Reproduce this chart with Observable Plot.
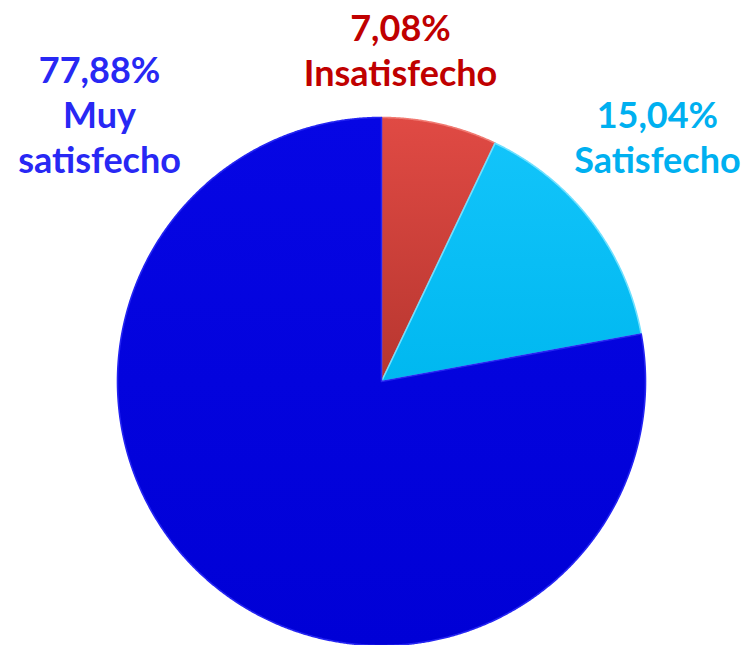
<!DOCTYPE html>
<html><head><meta charset="utf-8">
<script src="https://cdn.jsdelivr.net/npm/d3@7"></script>
<script src="https://cdn.jsdelivr.net/npm/@observablehq/plot@0.6"></script>
<style>body{margin:0;background:#fff} svg{display:block}</style>
</head><body><div id="chart"></div>
<script>
// ---- data ----
const categories = ["Insatisfecho", "Satisfecho", "Muy satisfecho"];
const values = [7.08, 15.04, 77.88];
const valueLabels = ["7,08%", "15,04%", "77,88%"];
const labelLines = ["Insatisfecho", "Satisfecho", "Muy\nsatisfecho"];

// ---- styles / layout ----
const gradStops = [["#e04a44", "#b7362f"], ["#12c4fa", "#00b8f0"], ["#0606e4", "#0000d6"]];
const edgeColors = ["#f07a72", "#6fe0ff", "#2424f2"];
const textColors = ["#c00000", "#00b0f0", "#2828f4"];
const labelAnchors = [[0.072, 1.412], [1.045, 1.082], [-1.068, 1.252]]; // unit-circle coordinates

// ---- slice geometry derived from values ----
const total = d3.sum(values);
let acc = 0;
const slices = categories.map((c, i) => {
  const a0 = acc / total * 2 * Math.PI;
  acc += values[i];
  const a1 = acc / total * 2 * Math.PI;
  return {key: c, a0, a1, i};
});
function slicePoints(s) {
  const n = Math.max(2, Math.ceil((s.a1 - s.a0) / (Math.PI / 720)));
  const pts = [{key: s.key, x: 0, y: 0}];
  for (let k = 0; k <= n; ++k) {
    const a = s.a0 + (s.a1 - s.a0) * k / n;
    pts.push({key: s.key, x: Math.sin(a), y: Math.cos(a)});
  }
  return pts;
}
const labels = categories.map((c, i) => ({
  key: c, text: valueLabels[i] + "\n" + labelLines[i],
  x: labelAnchors[i][0], y: labelAnchors[i][1]
}));

const sliceMarks = slices.map(s => Plot.line(slicePoints(s), {
  x: "x", y: "y", curve: "linear-closed",
  fill: `url(#grad${s.i})`, stroke: edgeColors[s.i], strokeWidth: 1.6, strokeLinejoin: "round"
}));
const textMarks = labels.map((d, i) => Plot.text([d], {
  x: "x", y: "y", text: "text", fill: textColors[i],
  textAnchor: "middle", lineAnchor: "top", lineHeight: 1.25,
  fontSize: 36, fontWeight: "bold"
}));

const svg = Plot.plot({
  width: 749, height: 645,
  margin: 0,
  style: {fontFamily: "Lato, 'Open Sans', sans-serif", background: "#fff", overflow: "visible"},
  x: {domain: [-1, 1], range: [117, 645], axis: null},
  y: {domain: [-1, 1], range: [645, 117], axis: null},
  marks: [...sliceMarks, ...textMarks]
});

// gradient definitions for the slice fills
const ns = "http://www.w3.org/2000/svg";
const defs = document.createElementNS(ns, "defs");
gradStops.forEach((st, i) => {
  const g = document.createElementNS(ns, "linearGradient");
  g.setAttribute("id", "grad" + i);
  g.setAttribute("x1", "0"); g.setAttribute("y1", "0");
  g.setAttribute("x2", "0"); g.setAttribute("y2", "1");
  st.forEach((c, k) => {
    const s = document.createElementNS(ns, "stop");
    s.setAttribute("offset", k ? "1" : "0");
    s.setAttribute("stop-color", c);
    g.appendChild(s);
  });
  defs.appendChild(g);
});
svg.insertBefore(defs, svg.firstChild);
document.getElementById("chart").appendChild(svg);
</script>
</body></html>
